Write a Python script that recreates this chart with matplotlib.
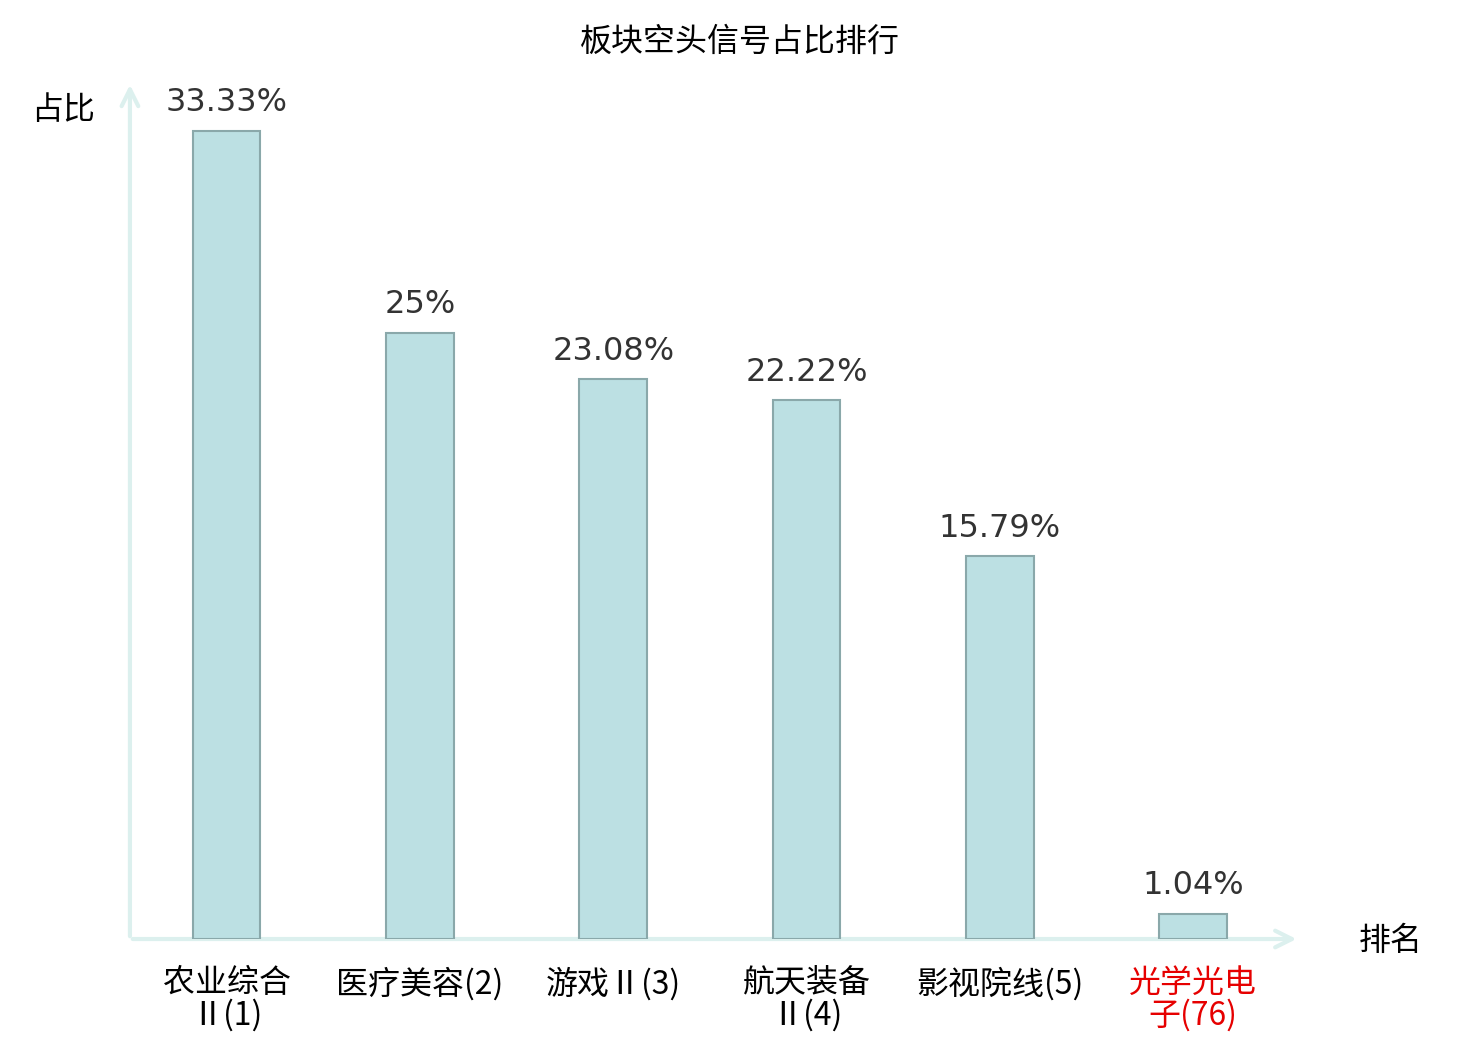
import matplotlib
matplotlib.use("Agg")
import matplotlib.pyplot as plt

plt.rcParams['font.family'] = ['Noto Sans CJK SC', 'DejaVu Sans']

# data
categories = ["农业综合\nⅡ(1)", "医疗美容(2)", "游戏Ⅱ(3)", "航天装备\nⅡ(4)", "影视院线(5)", "光学光电\n子(76)"]
values = [33.33, 25, 23.08, 22.22, 15.79, 1.04]
value_labels = ["33.33%", "25%", "23.08%", "22.22%", "15.79%", "1.04%"]
label_colors = ["#000000"] * 5 + ["#e60000"]

axis_color = "#dcf0ee"

fig = plt.figure(figsize=(14.8, 10.4), dpi=100)
ax = fig.add_axes([0.0878, 0.0971, 0.7838, 0.8183])

x = list(range(len(categories)))
ax.bar(x, values, width=0.35, color="#bce0e3", edgecolor="#8aa8aa", linewidth=1.5, zorder=3)

for xi, v, lab in zip(x, values, value_labels):
    ax.annotate(lab, (xi, v), xytext=(0, 9), textcoords="offset points",
                ha="center", va="bottom", fontsize=23, color="#333333",
                family="DejaVu Sans")

ax.set_xlim(-0.5, 5.5)
ax.set_ylim(0, 35.1)
ax.set_yticks([])
ax.set_xticks(x)
ax.set_xticklabels(categories, fontsize=23, linespacing=1.0)
for t, c in zip(ax.get_xticklabels(), label_colors):
    t.set_color(c)
ax.tick_params(axis="x", length=0, pad=20)

for s in ax.spines.values():
    s.set_visible(False)

# axis arrows
ax.annotate("", xy=(1.008, 0), xytext=(0, 0), xycoords="axes fraction",
            arrowprops=dict(arrowstyle="->", color=axis_color, lw=3, mutation_scale=30), zorder=2)
ax.annotate("", xy=(0, 1.007), xytext=(0, 0), xycoords="axes fraction",
            arrowprops=dict(arrowstyle="->", color=axis_color, lw=3, mutation_scale=30), zorder=2)

fig.text(63 / 1480, 1 - 110 / 1040, "占比", fontsize=23, ha="center", va="center")
fig.text(1391 / 1480, 1 - 941 / 1040, "排名", fontsize=23, ha="center", va="center")
fig.text(0.5, 1 - 42 / 1040, "板块空头信号占比排行", fontsize=23, ha="center", va="center")

fig.savefig("out.png", dpi=100)
